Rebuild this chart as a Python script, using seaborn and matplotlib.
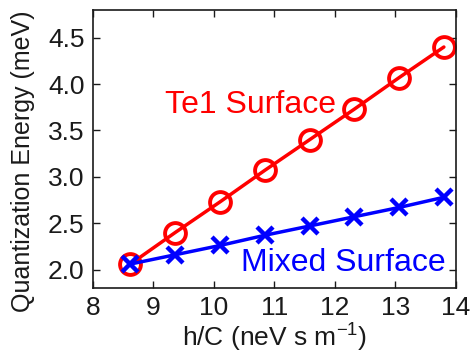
import numpy as np
import pandas as pd
import matplotlib
matplotlib.use("Agg")
import matplotlib.pyplot as plt
import seaborn as sns

# values
h_over_c = [8.62, 9.36, 10.10, 10.84, 11.58, 12.32, 13.06, 13.80]
te1_energy = [2.06, 2.40, 2.73, 3.07, 3.40, 3.73, 4.07, 4.40]
mixed_energy = [2.06, 2.16, 2.26, 2.37, 2.47, 2.57, 2.67, 2.78]

sns.set_style("ticks")
plt.rcParams["font.family"] = ["Liberation Sans", "DejaVu Sans"]
plt.rcParams["mathtext.default"] = "regular"

df_te1 = pd.DataFrame({"x": h_over_c, "y": te1_energy})
df_mix = pd.DataFrame({"x": h_over_c, "y": mixed_energy})

fig, ax = plt.subplots(figsize=(4.74, 3.54), dpi=100)

sns.lineplot(data=df_te1, x="x", y="y", ax=ax, color="#ff0000", lw=2.5,
             marker="o", markersize=15, markerfacecolor="none",
             markeredgecolor="#ff0000", markeredgewidth=2.8)
sns.lineplot(data=df_mix, x="x", y="y", ax=ax, color="#0000ff", lw=2.5,
             marker="x", markersize=11, markeredgecolor="#0000ff",
             markeredgewidth=3.2)

ax.text(10.6, 3.78, "Te1 Surface", color="#ff0000", fontsize=23,
        ha="center", va="center")
ax.text(13.83, 2.07, "Mixed Surface", color="#0000ff", fontsize=23,
        ha="right", va="center")

ax.set_xlim(8, 14)
ax.set_ylim(1.8, 4.8)
ax.set_xticks(range(8, 15))
ax.set_yticks(np.arange(2.0, 4.51, 0.5))
ax.set_yticklabels([f"{v:.1f}" for v in np.arange(2.0, 4.51, 0.5)])
ax.tick_params(direction="in", top=True, right=True, length=5, width=1,
               labelsize=19, colors="#1a1a1a", pad=6)
for sp in ax.spines.values():
    sp.set_linewidth(1.2)
    sp.set_color("#1a1a1a")

ax.set_xlabel("h/C (neV s m$^{-1}$)", fontsize=19, color="#1a1a1a", labelpad=1)
ax.set_ylabel("Quantization Energy (meV)", fontsize=18, color="#1a1a1a")
ax.yaxis.set_label_coords(-0.16, 0.455)

fig.subplots_adjust(left=0.196, right=0.962, top=0.972, bottom=0.186)
fig.savefig("out.png", dpi=100)
